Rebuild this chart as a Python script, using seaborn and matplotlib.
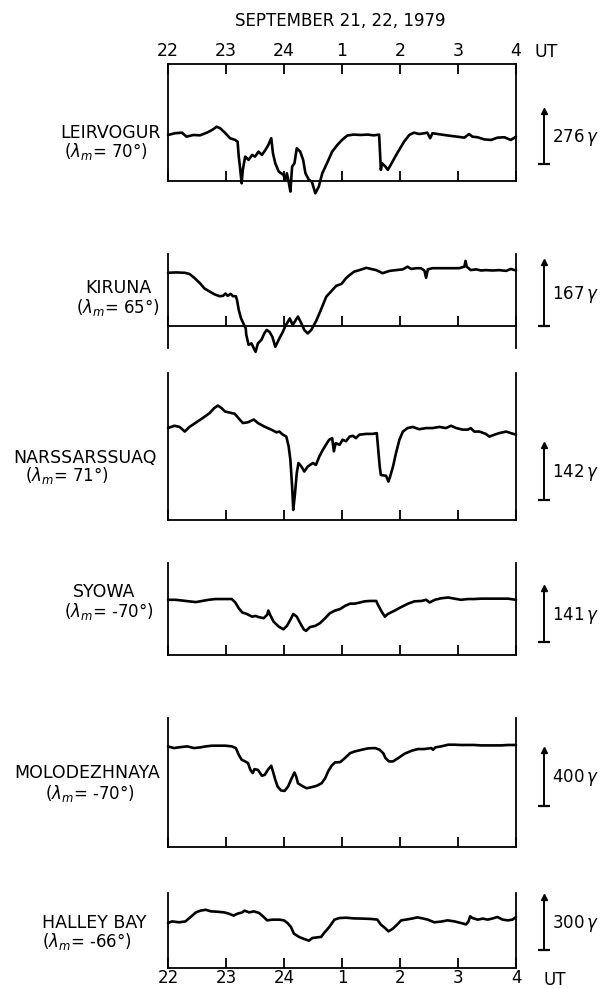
import matplotlib
matplotlib.use('Agg')
import matplotlib.pyplot as plt
import seaborn as sns

# time in hours after 22 UT (Sept 21), H deviation in gamma from quiet level
hour_ticks = [0, 1, 2, 3, 4, 5, 6]
hour_labels = ['22', '23', '24', '1', '2', '3', '4']

stations = ['LEIRVOGUR', 'KIRUNA', 'NARSSARSSUAQ', 'SYOWA', 'MOLODEZHNAYA', 'HALLEY BAY']
latitudes = ['70°', '65°', '71°', '-70°', '-70°', '-66°']
scale_gamma = [276, 167, 142, 141, 400, 300]

leirvogur_t = [0.0, 0.12, 0.24, 0.32, 0.44, 0.55, 0.67, 0.76, 0.84, 0.90, 0.99, 1.07, 1.16, 1.20, 1.22,
               1.24, 1.27, 1.29, 1.33, 1.39, 1.45, 1.50, 1.56, 1.62, 1.68, 1.73, 1.78, 1.81, 1.85, 1.91,
               1.99, 2.02, 2.05, 2.08, 2.11, 2.14, 2.18, 2.22, 2.28, 2.33, 2.37, 2.43, 2.48, 2.54, 2.60,
               2.66, 2.74, 2.83, 2.92, 3.00, 3.09, 3.20, 3.32, 3.44, 3.55, 3.64, 3.67, 3.69, 3.75, 3.79,
               3.84, 3.95, 4.07, 4.16, 4.24, 4.33, 4.42, 4.47, 4.52, 4.56, 4.65, 4.76, 4.88, 4.99, 5.11,
               5.19, 5.25, 5.34, 5.45, 5.57, 5.68, 5.80, 5.91, 6.0]
leirvogur_h = [0, 9, 12, -9, 0, -2, 12, 26, 43, 35, 9, -17, -26, -35, -113,
               -165, -252, -182, -113, -130, -104, -113, -87, -104, -78, -52, -17, -96, -148, -191,
               -208, -234, -200, -243, -295, -165, -148, -69, -87, -130, -200, -234, -243, -304, -269,
               -200, -148, -87, -52, -26, -3, 2, 0, 2, -2, 2, -182, -148, -165, -182,
               -156, -96, -35, 0, 12, 5, 9, 12, -17, 9, 5, 0, -5, -9, -14,
               5, -9, -12, -23, -26, -14, -12, -26, -9]

kiruna_t = [0.00, 0.14, 0.29, 0.37, 0.46, 0.55, 0.63, 0.72, 0.80, 0.89, 0.95, 0.99, 1.03, 1.08, 1.12,
            1.17, 1.19, 1.22, 1.26, 1.30, 1.34, 1.35, 1.39, 1.44, 1.48, 1.51, 1.55, 1.61, 1.66, 1.70,
            1.75, 1.80, 1.85, 1.92, 1.98, 2.03, 2.05, 2.10, 2.15, 2.24, 2.30, 2.35, 2.41, 2.47, 2.53,
            2.55, 2.61, 2.67, 2.73, 2.81, 2.90, 2.99, 3.07, 3.13, 3.21, 3.30, 3.42, 3.50, 3.59, 3.70,
            3.82, 3.93, 4.05, 4.13, 4.19, 4.28, 4.36, 4.42, 4.45, 4.48, 4.56, 4.68, 4.79, 4.91, 5.02,
            5.11, 5.13, 5.15, 5.22, 5.31, 5.40, 5.48, 5.60, 5.71, 5.83, 5.91, 6.00]
kiruna_h = [-3, -2, -3, -6, -17, -30, -44, -52, -59, -64, -63, -57, -63, -58, -64,
            -64, -74, -100, -122, -135, -148, -165, -191, -187, -200, -209, -187, -178, -161, -152,
            -157, -170, -196, -174, -157, -139, -135, -122, -139, -117, -135, -152, -161, -152, -135,
            -130, -109, -87, -65, -52, -37, -32, -17, -9, 0, 4, 10, 7, 4, -4,
            2, 4, 6, 13, 7, 9, 9, 3, -16, 6, 9, 9, 9, 9, 9,
            13, 28, 13, 4, 6, 3, 4, 3, 4, 2, 7, 3]

narssarssuaq_t = [0.00, 0.11, 0.20, 0.29, 0.37, 0.49, 0.60, 0.72, 0.80, 0.86, 0.92, 0.98, 1.06, 1.15, 1.23,
                  1.29, 1.38, 1.48, 1.55, 1.66, 1.78, 1.87, 1.92, 1.98, 2.04, 2.08, 2.11, 2.14, 2.16, 2.19,
                  2.22, 2.25, 2.30, 2.35, 2.41, 2.50, 2.55, 2.61, 2.67, 2.74, 2.78, 2.83, 2.86, 2.89, 2.96,
                  3.01, 3.07, 3.13, 3.19, 3.24, 3.30, 3.42, 3.53, 3.60, 3.62, 3.65, 3.67, 3.76, 3.80, 3.83,
                  3.88, 3.93, 3.99, 4.05, 4.13, 4.22, 4.33, 4.45, 4.56, 4.68, 4.79, 4.88, 4.97, 5.08, 5.17,
                  5.22, 5.28, 5.37, 5.48, 5.54, 5.63, 5.71, 5.83, 5.91, 6.00]
narssarssuaq_h = [0, 6, 3, -9, 3, 15, 26, 39, 52, 58, 52, 43, 40, 37, 23,
                  13, 15, 22, 13, 4, -4, -11, -9, -17, -22, -47, -82, -151, -211, -168,
                  -116, -90, -99, -112, -99, -90, -95, -73, -56, -39, -30, -26, -60, -39, -43,
                  -30, -34, -22, -20, -26, -17, -15, -15, -13, -47, -99, -121, -123, -138, -125,
                  -99, -65, -30, -9, 0, 3, -3, 0, 0, 3, 0, 6, 0, -4, -4,
                  0, -9, -9, -15, -22, -17, -13, -9, -13, -17]

syowa_t = [0.00, 0.13, 0.25, 0.36, 0.48, 0.59, 0.70, 0.82, 0.93, 1.10, 1.16, 1.22, 1.28, 1.36, 1.45,
           1.51, 1.56, 1.65, 1.71, 1.73, 1.76, 1.82, 1.91, 1.99, 2.05, 2.11, 2.16, 2.22, 2.28, 2.34,
           2.38, 2.45, 2.54, 2.62, 2.71, 2.79, 2.88, 2.97, 3.05, 3.14, 3.22, 3.31, 3.39, 3.48, 3.59,
           3.62, 3.68, 3.74, 3.79, 3.91, 4.02, 4.14, 4.25, 4.37, 4.45, 4.51, 4.60, 4.71, 4.83, 4.94,
           5.05, 5.17, 5.28, 5.40, 5.51, 5.63, 5.74, 5.86, 6.00]
syowa_h = [0, 0, -2, -4, -6, -3, 0, 2, 2, 2, -7, -22, -33, -37, -44,
           -42, -45, -48, -39, -28, -39, -57, -70, -77, -68, -52, -37, -44, -61, -77,
           -81, -71, -68, -61, -48, -35, -28, -24, -16, -10, -10, -7, -4, -3, -3,
           -13, -30, -44, -37, -28, -19, -10, -4, -3, 0, -7, 0, 4, 6, 3,
           0, 2, 2, 3, 3, 3, 3, 3, 0]

molodezhnaya_t = [0.00, 0.10, 0.22, 0.33, 0.45, 0.56, 0.65, 0.76, 0.88, 0.99, 1.10, 1.17, 1.22, 1.27, 1.33,
                  1.38, 1.42, 1.46, 1.49, 1.55, 1.62, 1.67, 1.72, 1.78, 1.81, 1.85, 1.89, 1.95, 2.01, 2.07,
                  2.12, 2.18, 2.21, 2.24, 2.31, 2.39, 2.48, 2.56, 2.65, 2.71, 2.76, 2.82, 2.88, 2.97, 3.05,
                  3.14, 3.22, 3.34, 3.45, 3.57, 3.65, 3.71, 3.75, 3.81, 3.88, 3.97, 4.08, 4.20, 4.31, 4.42,
                  4.54, 4.57, 4.61, 4.71, 4.83, 4.94, 5.05, 5.17, 5.28, 5.40, 5.51, 5.63, 5.74, 5.86, 6.00]
molodezhnaya_h = [0, -12, -5, 0, -12, -7, 0, 5, 5, 5, 0, -12, -60, -95, -107,
                  -119, -167, -190, -162, -167, -209, -202, -167, -138, -179, -238, -286, -314, -317, -286,
                  -238, -186, -214, -262, -281, -298, -290, -281, -262, -226, -179, -138, -114, -112, -83,
                  -48, -36, -24, -14, -12, -24, -48, -83, -107, -107, -83, -52, -31, -19, -19,
                  -12, -24, -7, 0, 12, 12, 10, 10, 10, 7, 7, 7, 7, 10, 10]

halley_t = [0.00, 0.07, 0.19, 0.30, 0.39, 0.48, 0.56, 0.65, 0.74, 0.85, 0.97, 1.05, 1.13, 1.20, 1.28,
            1.32, 1.40, 1.48, 1.57, 1.65, 1.71, 1.80, 1.92, 2.00, 2.06, 2.12, 2.17, 2.26, 2.35, 2.43,
            2.49, 2.58, 2.64, 2.69, 2.78, 2.87, 2.95, 3.07, 3.21, 3.35, 3.50, 3.61, 3.67, 3.74, 3.80,
            3.87, 3.95, 4.02, 4.10, 4.22, 4.30, 4.39, 4.48, 4.59, 4.71, 4.82, 4.94, 5.05, 5.14, 5.18,
            5.21, 5.25, 5.34, 5.43, 5.51, 5.60, 5.68, 5.77, 5.86, 5.94, 6.00]
halley_h = [0, 9, 4, 9, 34, 60, 70, 75, 66, 64, 60, 53, 42, 53, 60,
            70, 60, 66, 57, 34, 15, 19, 19, 15, 0, -23, -60, -79, -91, -100,
            -85, -81, -79, -57, -23, 19, 28, 30, 26, 25, 23, 19, -9, -28, -47,
            -34, -9, 15, 19, 26, 32, 26, 19, 4, 8, 15, 9, 0, -8, 9,
            38, 28, 19, 25, 19, 26, 34, 19, 15, 19, 34]

series = [(leirvogur_t, leirvogur_h), (kiruna_t, kiruna_h), (narssarssuaq_t, narssarssuaq_h),
          (syowa_t, syowa_h), (molodezhnaya_t, molodezhnaya_h), (halley_t, halley_h)]

# layout, in pixels of the 611x989 figure
W, H = 611, 989
X0, X1 = 168, 516
# (top px, bottom px, ymin, ymax, bottom spine level or None, scale bar start)
panels = [
    (64, 181, -240, 370, None, -153),
    (254, 348, -199, 46, -142, -142),
    (373, 520, -237, 142, None, -185),
    (563, 655, -144, 96, None, -111),
    (718, 847, -716, 202, None, -424),
    (893, 968, -255, 170, None, -151),
]
# (name x, name y, latitude x, latitude y) centres in pixels
label_pos = [
    (110, 133, 106, 152),
    (118, 288, 118, 307),
    (85, 458, 67, 476),
    (104, 592, 109, 612),
    (87, 773, 90, 793),
    (94, 923, 87, 942),
]

sns.set_theme(style='white')
plt.rcParams['font.family'] = ['DejaVu Sans']
plt.rcParams['mathtext.fontset'] = 'dejavusans'
plt.rcParams['text.color'] = 'black'
plt.rcParams['xtick.color'] = 'black'
plt.rcParams['xtick.labelcolor'] = 'black'

fig = plt.figure(figsize=(W / 100, H / 100), dpi=100)

n = len(stations)
px_per_hour = (X1 - X0) / 6
for i in range(n):
    t, h = series[i]
    top, bot, ymin, ymax, spine_level, bar0 = panels[i]
    ax = fig.add_axes([X0 / W, 1 - bot / H, (X1 - X0) / W, (bot - top) / H])
    sns.lineplot(x=t, y=h, ax=ax, color='black', linewidth=1.9, estimator=None, sort=False)
    ax.lines[-1].set_clip_on(False)
    ax.set_xlim(0, 6)
    ax.set_ylim(ymin, ymax)
    ax.set_xlabel('')
    ax.set_ylabel('')
    ax.set_yticks([])
    ax.set_xticks(hour_ticks)
    ax.set_facecolor('none')
    for s in ax.spines.values():
        s.set_color('black')
        s.set_linewidth(1.3)
    if i == 0:
        ax.set_xticklabels(hour_labels, fontsize=12.5)
        ax.tick_params(axis='x', direction='in', length=7, width=1.3, color='black',
                       top=True, labeltop=True, bottom=True, labelbottom=False, pad=3)
    else:
        ax.spines['top'].set_visible(False)
        ax.set_xticklabels(hour_labels if i == n - 1 else [], fontsize=12)
        ax.tick_params(axis='x', direction='in', length=7, width=1.3, color='black',
                       bottom=True, labelbottom=(i == n - 1), pad=1)
    if spine_level is not None:
        ax.spines['bottom'].set_position(('data', spine_level))

    # scale bar with its value
    xb = (544 - X0) / px_per_hour
    bar1 = bar0 + scale_gamma[i]
    ax.plot([xb, xb], [bar0, bar1], color='black', lw=1.4, clip_on=False)
    ax.plot([xb], [bar0], marker='_', ms=9, mew=1.6, color='black', clip_on=False)
    ax.plot([xb], [bar1], marker='^', ms=4, color='black', clip_on=False)
    ax.text(xb + 8 / px_per_hour, (bar0 + bar1) / 2, f'{scale_gamma[i]}$\\,\\gamma$', fontsize=12,
            ha='left', va='center', clip_on=False)

    # station name and magnetic latitude
    nx, ny, lx, ly = label_pos[i]
    fig.text(nx / W, 1 - ny / H, stations[i], fontsize=12.5, ha='center', va='center')
    fig.text(lx / W, 1 - ly / H, f'($\\lambda_m$= {latitudes[i]})', fontsize=12,
             ha='center', va='center')

fig.text(340 / W, 1 - 21 / H, 'SEPTEMBER 21, 22, 1979', fontsize=12, ha='center', va='center')
fig.text(546 / W, 1 - 52 / H, 'UT', fontsize=12.5, ha='center', va='center')
fig.text(555 / W, 1 - 980 / H, 'UT', fontsize=12, ha='center', va='center')

fig.savefig('out.png', dpi=100)
